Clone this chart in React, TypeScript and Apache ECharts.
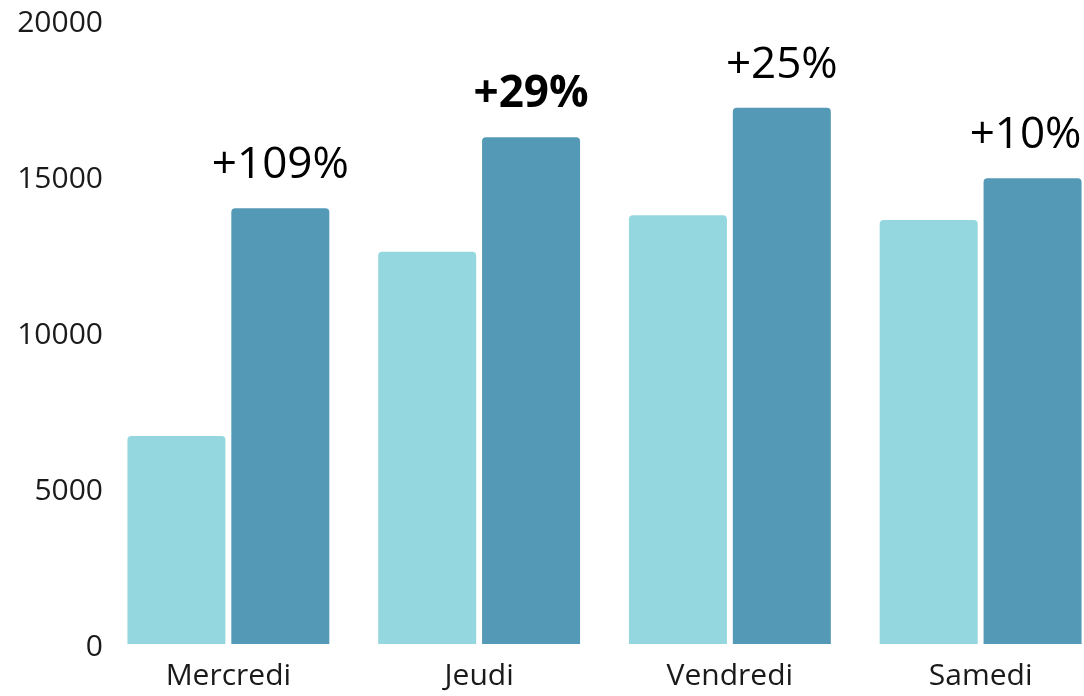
import React, { useEffect, useRef } from "react";
import * as echarts from "echarts";

const categories = ["Mercredi", "Jeudi", "Vendredi", "Samedi"];
const previousValues = [6670, 12570, 13740, 13590];
const currentValues = [13970, 16240, 17190, 14930];
const boldIndex = 1;
const yTicks = { min: 0, max: 20000, interval: 5000 };

const LIGHT = "#95D7DE";
const DARK = "#5499B6";
const FONT = "'Open Sans', 'Noto Sans', sans-serif";

export default function App() {
  const ref = useRef<HTMLDivElement>(null);
  useEffect(() => {
    if (!ref.current) return;
    const chart = echarts.init(ref.current, undefined, { renderer: "svg" });
    const pct = (i: number) =>
      "+" + Math.round(((currentValues[i] - previousValues[i]) / previousValues[i]) * 100) + "%";
    const lastIndex = currentValues.length - 1;
    chart.setOption({
      animation: false,
      textStyle: { fontFamily: FONT },
      grid: { left: 103, right: 0, top: 20, bottom: 52, containLabel: false },
      xAxis: {
        type: "category",
        data: categories,
        axisLine: { show: false },
        axisTick: { show: false },
        axisLabel: { color: "#1a1a1a", fontSize: 30, fontFamily: FONT, margin: 14 },
      },
      yAxis: {
        type: "value",
        min: yTicks.min,
        max: yTicks.max,
        interval: yTicks.interval,
        splitLine: { show: false },
        axisLine: { show: false },
        axisTick: { show: false },
        axisLabel: {
          color: "#1a1a1a",
          fontSize: 30,
          fontFamily: FONT,
          margin: 0,
          formatter: (v: number) => String(v),
        },
      },
      series: [
        {
          type: "bar",
          data: previousValues,
          barWidth: 98,
          barGap: "6%",
          itemStyle: { color: LIGHT, borderRadius: [4, 4, 0, 0] },
        },
        {
          type: "bar",
          barWidth: 98,
          barGap: "6%",
          itemStyle: { color: DARK, borderRadius: [4, 4, 0, 0] },
          data: currentValues.map((v, i) => ({
            value: v,
            label: {
              show: true,
              position: "top",
              distance: 25,
              offset: i === lastIndex ? [-7, 0] : [0, 0],
              formatter: pct(i),
              color: "#000",
              fontSize: 44,
              fontFamily: FONT,
              fontWeight: i === boldIndex ? "bold" : "normal",
            },
          })),
        },
      ],
    });
    return () => chart.dispose();
  }, []);
  return (
    <div style={{ position: "fixed", left: 0, top: 0, width: 1084, height: 696, overflow: "hidden" }}>
      <div ref={ref} style={{ width: 1106, height: 696 }} />
    </div>
  );
}
